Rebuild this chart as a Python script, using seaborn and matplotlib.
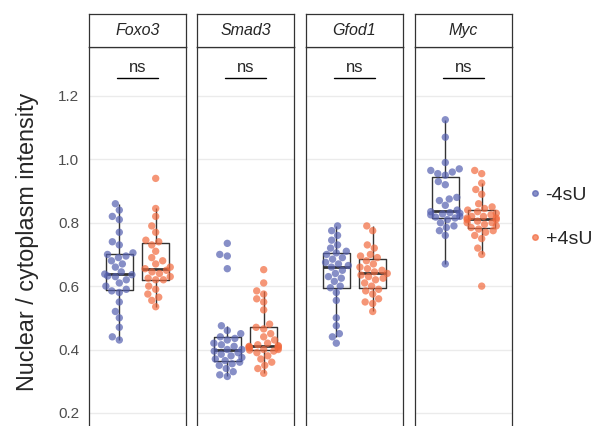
import pandas as pd
import matplotlib
matplotlib.use('Agg')
import matplotlib.pyplot as plt
import seaborn as sns
from matplotlib.lines import Line2D

genes = ['Foxo3', 'Smad3', 'Gfod1', 'Myc']
conditions = ['-4sU', '+4sU']
colors = ['#5560B0', '#F26A3E']

foxo3_minus = [0.86, 0.84, 0.82, 0.81, 0.77, 0.74, 0.73, 0.705, 0.70, 0.695, 0.69, 0.68, 0.67, 0.66, 0.645,
               0.638, 0.636, 0.632, 0.63, 0.62, 0.61, 0.60, 0.59, 0.585, 0.58, 0.55, 0.52, 0.50, 0.47, 0.44, 0.43]
foxo3_plus = [0.94, 0.845, 0.82, 0.79, 0.77, 0.745, 0.74, 0.73, 0.71, 0.69, 0.68, 0.67, 0.66, 0.655, 0.65,
              0.645, 0.64, 0.63, 0.625, 0.62, 0.62, 0.60, 0.59, 0.575, 0.565, 0.555, 0.535]
smad3_minus = [0.735, 0.70, 0.695, 0.655, 0.475, 0.46, 0.45, 0.44, 0.435, 0.43, 0.42, 0.415, 0.41, 0.40, 0.40,
               0.395, 0.39, 0.385, 0.38, 0.375, 0.37, 0.365, 0.36, 0.355, 0.35, 0.34, 0.33, 0.32, 0.315]
smad3_plus = [0.652, 0.61, 0.585, 0.575, 0.56, 0.55, 0.525, 0.48, 0.47, 0.465, 0.45, 0.44, 0.43, 0.42, 0.415,
              0.412, 0.41, 0.41, 0.408, 0.405, 0.405, 0.40, 0.40, 0.398, 0.395, 0.39, 0.38, 0.37, 0.36, 0.35,
              0.34, 0.325]
gfod1_minus = [0.79, 0.775, 0.76, 0.745, 0.73, 0.72, 0.71, 0.705, 0.70, 0.69, 0.685, 0.675, 0.67, 0.665, 0.66,
               0.65, 0.64, 0.63, 0.625, 0.615, 0.60, 0.595, 0.58, 0.555, 0.50, 0.475, 0.45, 0.44, 0.42]
gfod1_plus = [0.79, 0.775, 0.73, 0.72, 0.70, 0.695, 0.69, 0.68, 0.67, 0.66, 0.655, 0.65, 0.645, 0.64, 0.635,
              0.63, 0.625, 0.62, 0.61, 0.60, 0.59, 0.585, 0.575, 0.56, 0.55, 0.545, 0.52]
myc_minus = [1.125, 1.07, 0.99, 0.97, 0.965, 0.96, 0.955, 0.95, 0.93, 0.92, 0.88, 0.875, 0.87, 0.855, 0.84,
             0.835, 0.832, 0.83, 0.828, 0.825, 0.82, 0.818, 0.815, 0.81, 0.80, 0.79, 0.785, 0.775, 0.76, 0.67]
myc_plus = [0.965, 0.955, 0.925, 0.905, 0.89, 0.86, 0.85, 0.845, 0.84, 0.835, 0.83, 0.825, 0.82, 0.82, 0.815,
            0.815, 0.81, 0.81, 0.805, 0.80, 0.80, 0.795, 0.79, 0.785, 0.78, 0.775, 0.77, 0.76, 0.75, 0.72,
            0.70, 0.60]

minus_sets = [foxo3_minus, smad3_minus, gfod1_minus, myc_minus]
plus_sets = [foxo3_plus, smad3_plus, gfod1_plus, myc_plus]

rows = []
for gene, minus, plus in zip(genes, minus_sets, plus_sets):
    for v in minus:
        rows.append((gene, '-4sU', v))
    for v in plus:
        rows.append((gene, '+4sU', v))
df = pd.DataFrame(rows, columns=['gene', 'cond', 'ratio'])

sns.set_style('white')
plt.rcParams['font.family'] = ['Liberation Sans', 'DejaVu Sans']

W, H = 595, 426
fig = plt.figure(figsize=(W / 100, H / 100), dpi=100)

lefts = [89, 197, 306, 415]
pw = 97
top, bottom = 47, 430
strip_top = 14
edge = '#333333'

for i, gene in enumerate(genes):
    ax = fig.add_axes([lefts[i] / W, 1 - bottom / H, pw / W, (bottom - top) / H])
    sub = df[df.gene == gene]
    sns.swarmplot(data=sub, x='cond', y='ratio', hue='cond', order=conditions, hue_order=conditions,
                  palette=colors, size=5.3, alpha=0.7, legend=False, ax=ax, warn_thresh=1)
    sns.boxplot(data=sub, x='cond', y='ratio', order=conditions, fill=False, color=edge, width=0.75,
                showfliers=False, showcaps=False, linewidth=1, medianprops=dict(linewidth=2), ax=ax)
    ax.set_xlim(-0.833, 1.833)
    ax.set_ylim(0.146, 1.3546)
    ax.set_yticks([0.2, 0.4, 0.6, 0.8, 1.0, 1.2])
    ax.yaxis.grid(True, color='#EBEBEB', linewidth=1)
    ax.set_axisbelow(True)
    ax.set_xlabel('')
    ax.set_ylabel('')
    ax.set_xticks([])
    for s in ax.spines.values():
        s.set_color(edge)
        s.set_linewidth(0.9)
    if i == 0:
        ax.set_yticklabels(['0.2', '0.4', '0.6', '0.8', '1.0', '1.2'])
        ax.tick_params(axis='y', length=4, width=0.9, color=edge, labelcolor='#4D4D4D',
                       labelsize=11, pad=3)
    else:
        ax.tick_params(axis='y', length=0, labelleft=False)

    # significance bracket
    ax.plot([-0.07, 1.07], [1.256, 1.256], color='black', linewidth=1)
    ax.text(0.5, 1.276, 'ns', ha='center', va='baseline', fontsize=12)

    # facet strip
    sax = fig.add_axes([lefts[i] / W, 1 - top / H, pw / W, (top - strip_top) / H])
    sax.set_xticks([])
    sax.set_yticks([])
    sax.set_facecolor('white')
    for s in sax.spines.values():
        s.set_color(edge)
        s.set_linewidth(0.9)
    sax.text(0.5, 0.5, gene, ha='center', va='center', fontsize=11.5, style='italic',
             transform=sax.transAxes)

fig.text(28 / W, 1 - 242 / H, 'Nuclear / cytoplasm intensity', rotation=90, ha='center',
         va='center', fontsize=16.8)

handles = [Line2D([], [], linestyle='', marker='o', markersize=4, color=c, alpha=0.7) for c in colors]
fig.legend(handles, conditions, loc='center left', bbox_to_anchor=(529 / W, 1 - 217 / H),
           frameon=False, fontsize=14, labelspacing=1.35, handletextpad=0.25, handlelength=0.6,
           borderaxespad=0, borderpad=0)

fig.savefig('out.png', dpi=100)
